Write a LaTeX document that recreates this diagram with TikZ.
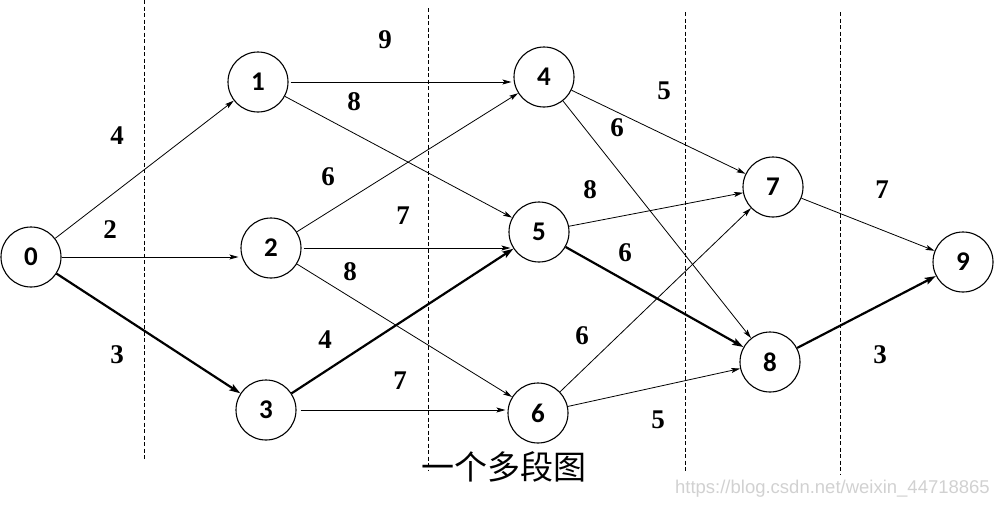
\documentclass[tikz,border=0pt]{standalone}
\usepackage{fontspec}
\setmainfont{Liberation Serif}
\newfontfamily\nodefont{Carlito}
\newfontfamily\cjkfont{Noto Sans CJK SC}
\newfontfamily\wmfont{Liberation Sans}
\usetikzlibrary{arrows.meta}
\begin{document}
\begin{tikzpicture}[x=1pt,y=-1pt,
  vert/.style={circle,draw,line width=1.1pt,minimum size=60pt,inner sep=0pt,font=\nodefont\bfseries\fontsize{27}{27}\selectfont},
  edge/.style={draw,line width=0.8pt,-{Stealth[length=9pt,width=5pt,inset=2pt]}},
  crit/.style={draw,line width=2.2pt,-{Stealth[length=11pt,width=7pt,inset=2pt]}},
  wt/.style={font=\bfseries\fontsize{27}{27}\selectfont},
  sep/.style={dashed,line width=0.7pt,dash pattern=on 4pt off 2.5pt}]
\useasboundingbox (0,0) rectangle (995,507);
% stage separators
\coordinate (s1a) at (144,0);   \coordinate (s1b) at (144,460);
\coordinate (s2a) at (428,8);   \coordinate (s2b) at (428,470);
\coordinate (s3a) at (685,12);  \coordinate (s3b) at (685,472);
\coordinate (s4a) at (840,12);  \coordinate (s4b) at (840,475);
\draw[sep] (s1a) -- (s1b);
\draw[sep] (s2a) -- (s2b);
\draw[sep] (s3a) -- (s3b);
\draw[sep] (s4a) -- (s4b);
% vertices
\node[vert] (n0) at (31,257) {0};
\node[vert] (n1) at (258,82) {1};
\node[vert] (n2) at (271,248) {2};
\node[vert] (n3) at (266,410) {3};
\node[vert] (n4) at (544,77) {4};
\node[vert] (n5) at (539,232) {5};
\node[vert] (n6) at (538,413) {6};
\node[vert] (n7) at (773,187) {7};
\node[vert] (n8) at (770,362) {8};
\node[vert] (n9) at (963,262) {9};
% edges
\path[edge] (n0) -- (n1);
\path[edge] (n0.east) -- ([xshift=-2pt]n0.east -| n2.west);
\path[crit] (n0) -- (n3);
\path[edge] ([xshift=2pt]n1.east) -- ([xshift=-2pt]n1.east -| n4.west);
\path[edge] (n1) -- (n5);
\path[edge] (n2) -- (n4);
\path[edge] ([xshift=2pt]n2.east) -- ([xshift=2pt]n2.east -| n5.west);
\path[edge] (n2) -- (n6);
\path[crit] (n3) -- (n5);
\path[edge] ([xshift=4pt]n3.east) -- ([xshift=-2pt]n3.east -| n6.west);
\path[edge] (n4) -- (n7);
\path[edge] (n4) -- (n8);
\path[edge] (n5) -- (n7);
\path[crit] (n5) -- (n8);
\path[edge] (n6) -- (n7);
\path[edge] (n6) -- (n8);
\path[edge] (n7) -- (n9);
\path[crit] (n8) -- (n9);
% weights
\node[wt] (w01) at (117,136) {4};
\node[wt] (w02) at (110,230) {2};
\node[wt] (w03) at (117,355) {3};
\node[wt] (w14) at (385,40) {9};
\node[wt] (w15) at (354,102) {8};
\node[wt] (w24) at (328,177) {6};
\node[wt] (w25) at (403,216) {7};
\node[wt] (w26) at (350,272) {8};
\node[wt] (w35) at (325,340) {4};
\node[wt] (w36) at (400,381) {7};
\node[wt] (w47) at (664,91) {5};
\node[wt] (w48) at (617,128) {6};
\node[wt] (w57) at (590,190) {8};
\node[wt] (w58) at (625,253) {6};
\node[wt] (w67) at (582,336) {6};
\node[wt] (w68) at (658,420) {5};
\node[wt] (w79) at (882,190) {7};
\node[wt] (w89) at (880,355) {3};
% caption
\node[anchor=west,inner sep=0pt,font=\cjkfont\fontsize{33}{33}\selectfont] (cap) at (421,467) {一个多段图};
\node[anchor=east,inner sep=0pt,text=black!18,font=\wmfont\fontsize{18.5}{18.5}\selectfont] (wm) at (990,489) {https://blog.csdn.net/weixin\_44718865};
\end{tikzpicture}
\end{document}
